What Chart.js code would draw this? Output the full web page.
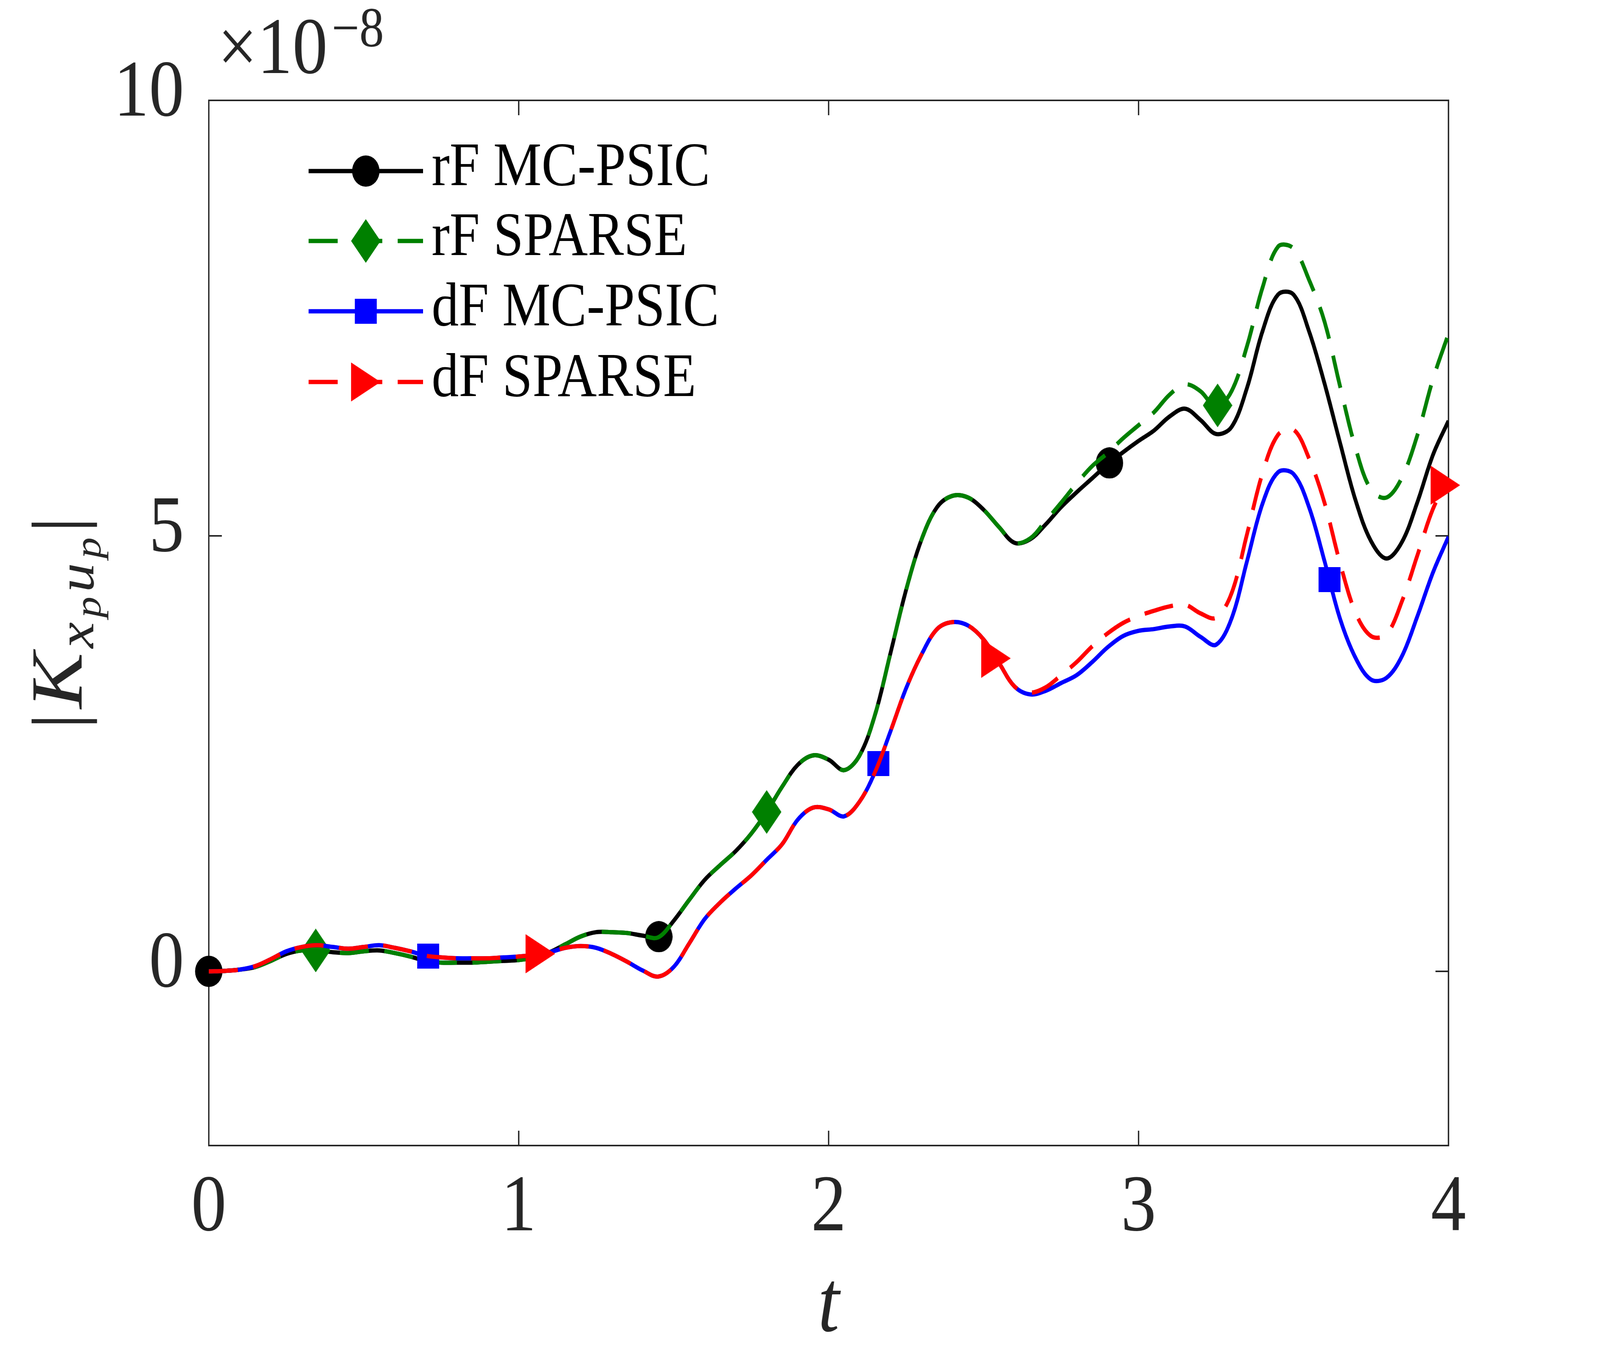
<!DOCTYPE html>
<html>
<head>
<meta charset="utf-8">
<script src="https://cdn.jsdelivr.net/npm/chart.js@4.4.1/dist/chart.umd.min.js"></script>
<style>
  html, body { margin: 0; padding: 0; background: #fff; overflow: hidden; }
  #chart { display: block; width: 100vw; height: 100vh; }
</style>
</head>
<body>
<canvas id="chart" width="4667" height="3500" style="width:100vw;height:100vh;"></canvas>
<script>
// time grid (t)
const tVals = [
  0, 0.05, 0.1, 0.15, 0.2, 0.25, 0.3, 0.35, 0.4, 0.45,
  0.5, 0.55, 0.6, 0.65, 0.7, 0.75, 0.8, 0.85, 0.9, 0.95,
  1, 1.05, 1.1, 1.15, 1.2, 1.25, 1.3, 1.35, 1.4, 1.45,
  1.5, 1.55, 1.6, 1.65, 1.7, 1.75, 1.8, 1.85, 1.9, 1.95,
  2, 2.05, 2.1, 2.15, 2.2, 2.25, 2.3, 2.35, 2.4, 2.45,
  2.5, 2.55, 2.6, 2.65, 2.7, 2.75, 2.8, 2.85, 2.9, 2.95,
  3, 3.05, 3.1, 3.15, 3.2, 3.25, 3.3, 3.35, 3.4, 3.45,
  3.5, 3.55, 3.6, 3.65, 3.7, 3.75, 3.8, 3.85, 3.9, 3.95,
  4
];

// |K_xpup| in units of 1e-8
const rfMcPsic = [
  0, 0.005, 0.02, 0.05, 0.12, 0.20, 0.24, 0.24, 0.22, 0.21,
  0.23, 0.24, 0.21, 0.17, 0.12, 0.10, 0.10, 0.10, 0.11, 0.12,
  0.13, 0.16, 0.22, 0.31, 0.40, 0.45, 0.45, 0.44, 0.41, 0.39,
  0.58, 0.82, 1.05, 1.22, 1.38, 1.58, 1.83, 2.12, 2.37, 2.48,
  2.43, 2.31, 2.48, 2.95, 3.66, 4.38, 4.96, 5.33, 5.46, 5.44,
  5.30, 5.10, 4.92, 4.96, 5.13, 5.33, 5.50, 5.66, 5.82, 5.96,
  6.09, 6.21, 6.37, 6.46, 6.33, 6.17, 6.25, 6.70, 7.35, 7.77,
  7.77, 7.35, 6.75, 6.07, 5.41, 4.94, 4.74, 4.93, 5.39, 5.93,
  6.32
];
const rfSparse = [
  0, 0.005, 0.02, 0.05, 0.12, 0.20, 0.24, 0.24, 0.22, 0.21,
  0.23, 0.24, 0.21, 0.17, 0.12, 0.10, 0.10, 0.10, 0.11, 0.12,
  0.13, 0.16, 0.22, 0.31, 0.40, 0.45, 0.45, 0.44, 0.41, 0.39,
  0.58, 0.82, 1.05, 1.22, 1.38, 1.58, 1.83, 2.12, 2.37, 2.48,
  2.43, 2.31, 2.48, 2.95, 3.66, 4.38, 4.96, 5.33, 5.46, 5.44,
  5.30, 5.10, 4.92, 4.97, 5.17, 5.38, 5.60, 5.80, 5.95, 6.12,
  6.27, 6.42, 6.62, 6.74, 6.66, 6.48, 6.66, 7.18, 7.85, 8.32,
  8.30, 7.94, 7.46, 6.72, 6.01, 5.53, 5.44, 5.67, 6.16, 6.80,
  7.32
];
const dfMcPsic = [
  0, 0.005, 0.02, 0.06, 0.14, 0.23, 0.28, 0.30, 0.28, 0.26,
  0.28, 0.30, 0.27, 0.23, 0.18, 0.16, 0.15, 0.15, 0.15, 0.16,
  0.17, 0.19, 0.22, 0.27, 0.29, 0.27, 0.20, 0.11, 0.01, -0.06,
  0.05, 0.32, 0.60, 0.79, 0.95, 1.10, 1.28, 1.46, 1.74, 1.88,
  1.86, 1.78, 1.95, 2.29, 2.76, 3.25, 3.64, 3.93, 4.01, 3.97,
  3.81, 3.54, 3.27, 3.18, 3.22, 3.31, 3.40, 3.55, 3.72, 3.85,
  3.91, 3.93, 3.96, 3.96, 3.84, 3.75, 4.05, 4.71, 5.37, 5.73,
  5.71, 5.33, 4.71, 4.05, 3.60, 3.35, 3.37, 3.62, 4.08, 4.58,
  4.99
];
const dfSparse = [
  0, 0.005, 0.02, 0.06, 0.14, 0.23, 0.28, 0.30, 0.28, 0.26,
  0.28, 0.30, 0.27, 0.23, 0.18, 0.16, 0.15, 0.15, 0.15, 0.16,
  0.17, 0.19, 0.22, 0.27, 0.29, 0.27, 0.20, 0.11, 0.01, -0.06,
  0.05, 0.32, 0.60, 0.79, 0.95, 1.10, 1.28, 1.46, 1.74, 1.88,
  1.86, 1.78, 1.95, 2.29, 2.76, 3.25, 3.64, 3.93, 4.01, 3.97,
  3.81, 3.54, 3.27, 3.20, 3.26, 3.40, 3.55, 3.73, 3.88, 4.00,
  4.08, 4.14, 4.19, 4.21, 4.11, 4.06, 4.34, 5.02, 5.72, 6.16,
  6.22, 5.89, 5.38, 4.69, 4.12, 3.85, 3.87, 4.25, 4.78, 5.31,
  5.65
];

// where the markers sit along t
const rfMcMarkT = [0, 1.452, 2.906];
const rfSpMarkT = [0.345, 1.80, 3.255];
const dfMcMarkT = [0.708, 2.16, 3.616];
const dfSpMarkT = [1.07, 2.54, 3.99];

const seriesNames = ['rF MC-PSIC', 'rF SPARSE', 'dF MC-PSIC', 'dF SPARSE'];
const xTickVals = [0, 1, 2, 3, 4];
const yTickVals = [0, 5, 10];

const FONT = '"Liberation Serif", "Times New Roman", serif';
const AXIS_COLOR = '#262626';

function interpAt(xs, ys, t) {
  for (let i = 0; i < xs.length - 1; i++) {
    if (t >= xs[i] && t <= xs[i + 1]) {
      const f = (t - xs[i]) / (xs[i + 1] - xs[i]);
      return ys[i] + f * (ys[i + 1] - ys[i]);
    }
  }
  return ys[ys.length - 1];
}

// MATLAB-like marker shapes
function makeMarker(kind, color) {
  const c = document.createElement('canvas');
  const dims = { circle: [80, 80], diamond: [86, 112], square: [64, 64], triangle: [86, 100] }[kind];
  c.width = dims[0]; c.height = dims[1];
  const g = c.getContext('2d');
  g.fillStyle = color;
  g.beginPath();
  if (kind === 'circle') {
    g.arc(40, 40, 40, 0, Math.PI * 2);
  } else if (kind === 'diamond') {
    g.moveTo(43, 0); g.lineTo(86, 56); g.lineTo(43, 112); g.lineTo(0, 56);
  } else if (kind === 'square') {
    g.rect(0, 0, 64, 64);
  } else {
    g.moveTo(0, 0); g.lineTo(86, 50); g.lineTo(0, 100);
  }
  g.closePath();
  g.fill();
  return c;
}

const styles = [
  { color: '#000000', dash: [], marker: makeMarker('circle', '#000000') },
  { color: '#008000', dash: [85, 45], marker: makeMarker('diamond', '#008000') },
  { color: '#0000ff', dash: [], marker: makeMarker('square', '#0000ff') },
  { color: '#ff0000', dash: [85, 45], marker: makeMarker('triangle', '#ff0000') }
];

const allY = [rfMcPsic, rfSparse, dfMcPsic, dfSparse];
const allMarkT = [rfMcMarkT, rfSpMarkT, dfMcMarkT, dfSpMarkT];

const datasets = [];
allY.forEach((ys, k) => {
  const st = styles[k];
  datasets.push({
    label: seriesNames[k],
    data: tVals.map((t, i) => ({ x: t, y: ys[i] })),
    borderColor: st.color,
    borderWidth: 11,
    borderDash: st.dash,
    pointRadius: 0,
    fill: false,
    tension: 0.35,
    order: 8 - 2 * k
  });
  datasets.push({
    label: seriesNames[k] + ' markers',
    data: allMarkT[k].map(t => ({ x: t, y: interpAt(tVals, ys, t) })),
    showLine: false,
    pointStyle: st.marker,
    pointRadius: 40,
    clip: false,
    order: 7 - 2 * k
  });
});

const framePlugin = {
  id: 'frame',
  beforeDatasetsDraw(chart) {
    const { ctx, chartArea: a, scales } = chart;
    ctx.save();
    ctx.strokeStyle = AXIS_COLOR;
    ctx.lineWidth = 4;
    ctx.strokeRect(a.left, a.top, a.right - a.left, a.bottom - a.top);
    const tl = 38;
    ctx.beginPath();
    scales.x.ticks.forEach(tk => {
      const px = scales.x.getPixelForValue(tk.value);
      ctx.moveTo(px, a.bottom); ctx.lineTo(px, a.bottom - tl);
      ctx.moveTo(px, a.top); ctx.lineTo(px, a.top + tl);
    });
    scales.y.ticks.forEach(tk => {
      const py = scales.y.getPixelForValue(tk.value);
      ctx.moveTo(a.left, py); ctx.lineTo(a.left + tl, py);
      ctx.moveTo(a.right, py); ctx.lineTo(a.right - tl, py);
    });
    ctx.stroke();
    ctx.restore();
  },
  afterDraw(chart) {
    const { ctx } = chart;
    ctx.save();
    // exponent note
    ctx.fillStyle = AXIS_COLOR;
    ctx.textBaseline = 'alphabetic';
    ctx.font = '205px ' + FONT;
    ctx.fillText('\u00d710', 635, 187);
    const w = ctx.measureText('\u00d710').width;
    ctx.font = '143px ' + FONT;
    ctx.fillText('\u22128', 635 + w + 12, 119);

    // y label |K_{x_p u_p}|, spread over the same length as the original
    const parts = [
      { s: '|', f: '210px ' + FONT, dy: 0 },
      { s: 'K', f: 'italic 215px ' + FONT, dy: 0 },
      { s: 'x', f: 'italic 150px ' + FONT, dy: 34 },
      { s: 'p', f: 'italic 108px ' + FONT, dy: 55 },
      { s: 'u', f: 'italic 150px ' + FONT, dy: 34 },
      { s: 'p', f: 'italic 108px ' + FONT, dy: 55 },
      { s: '|', f: '210px ' + FONT, dy: 0 }
    ];
    let natural = 0;
    parts.forEach(p => { ctx.font = p.f; p.w = ctx.measureText(p.s).width; natural += p.w; });
    const span = 545;
    const gap = Math.max(4, (span - natural) / (parts.length - 1));
    const total = natural + gap * (parts.length - 1);
    ctx.translate(238, (chart.chartArea.top + chart.chartArea.bottom) / 2);
    ctx.rotate(-Math.PI / 2);
    let u = -total / 2;
    parts.forEach(p => { ctx.font = p.f; ctx.fillText(p.s, u, p.dy); u += p.w + gap; });
    ctx.restore();

    // legend
    ctx.save();
    const rows = [438, 617, 797, 978];
    rows.forEach((ry, k) => {
      const st = styles[k];
      ctx.strokeStyle = st.color;
      ctx.lineWidth = 11;
      ctx.setLineDash(st.dash);
      ctx.beginPath(); ctx.moveTo(900, ry); ctx.lineTo(1234, ry); ctx.stroke();
      ctx.setLineDash([]);
      const m = st.marker;
      ctx.drawImage(m, 1067 - m.width / 2, ry - m.height / 2);
      ctx.fillStyle = '#000';
      ctx.font = '158px ' + FONT;
      ctx.textBaseline = 'alphabetic';
      ctx.fillText(seriesNames[k], 1259, ry + 36);
    });
    ctx.restore();
  }
};

new Chart(document.getElementById('chart'), {
  type: 'line',
  data: { datasets },
  options: {
    responsive: false,
    devicePixelRatio: 1,
    animation: false,
    layout: { padding: { left: 0, top: 257, right: 442, bottom: 0 } },
    plugins: { legend: { display: false }, tooltip: { enabled: false } },
    scales: {
      x: {
        type: 'linear', min: 0, max: 4,
        border: { display: false },
        grid: { display: false, drawTicks: false },
        afterBuildTicks: s => { s.ticks = xTickVals.map(v => ({ value: v })); },
        afterFit: s => { s.height = 567; },
        ticks: { color: AXIS_COLOR, padding: 40, font: { family: FONT, size: 205 } },
        title: {
          display: true, text: 't', color: AXIS_COLOR,
          font: { family: FONT, size: 225, style: 'italic' },
          padding: { top: 0, bottom: 16 }
        }
      },
      y: {
        type: 'linear', min: -2, max: 10,
        border: { display: false },
        grid: { display: false, drawTicks: false },
        afterBuildTicks: s => { s.ticks = yTickVals.map(v => ({ value: v })); },
        afterFit: s => { s.width = 609; },
        ticks: { color: AXIS_COLOR, padding: 72, labelOffset: -15, font: { family: FONT, size: 205 } }
      }
    }
  },
  plugins: [framePlugin]
});
</script>
</body>
</html>
